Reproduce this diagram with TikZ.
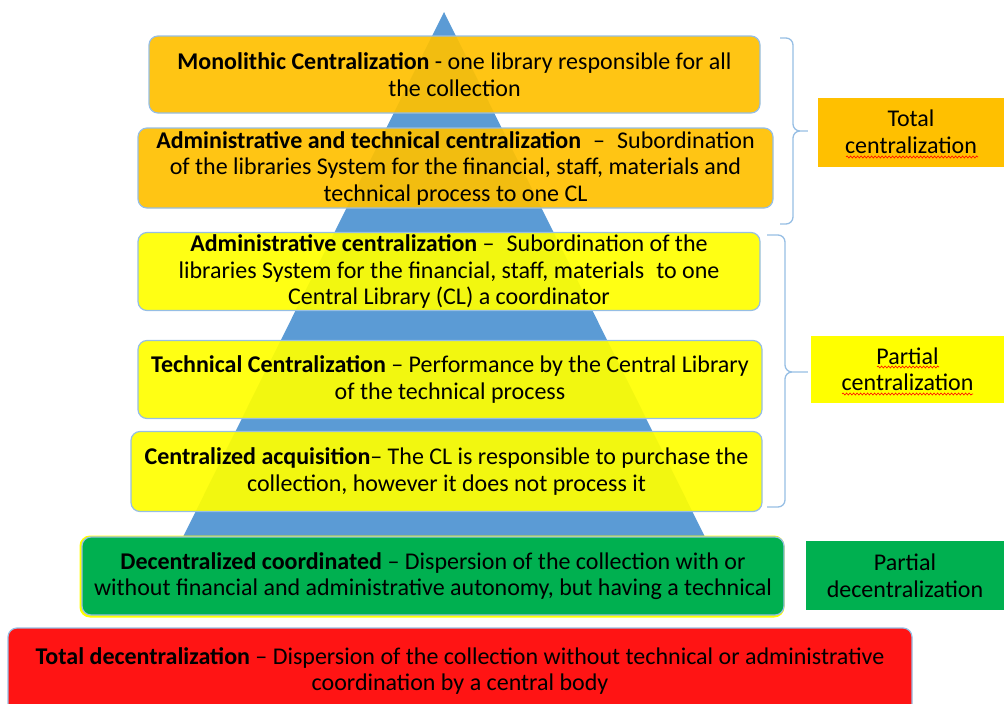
\documentclass[tikz,border=0pt]{standalone}
\usepackage{fontspec}
\setmainfont{Carlito}
\usetikzlibrary{decorations.pathmorphing}
\definecolor{pyrblue}{RGB}{91,155,213}
\definecolor{edgeblue}{RGB}{150,190,228}
\definecolor{boxorange}{RGB}{255,192,0}
\definecolor{boxyellow}{RGB}{255,255,0}
\definecolor{boxgreen}{RGB}{0,176,80}
\definecolor{boxred}{RGB}{255,20,20}
\tikzset{
lvlbox/.style={draw=edgeblue, line width=1.2pt, rounded corners=9pt,
  fill opacity=0.92, text opacity=1, align=center, inner sep=0pt},
catbox/.style={align=center, inner sep=0pt},
bracket/.style={draw=edgeblue, line width=1.3pt, rounded corners=7pt},
squiggle/.style={draw=red, line width=0.6pt, decorate,
  decoration={snake, amplitude=1pt, segment length=3.5pt}}
}

\begin{document}
\begin{tikzpicture}[x=1pt, y=-1pt, font=\fontsize{24}{26.5}\selectfont]
\useasboundingbox (0,0) rectangle (1004,704);
\fill[pyrblue] (444,12) -- (707,541) -- (181,541) -- cycle;
\draw[boxyellow, line width=3pt, rounded corners=9pt] (81,537) rectangle (783,616);

\node[lvlbox, fill=boxorange, minimum width=611pt, minimum height=77pt] (mono) at (454.5,74.5)
  {\textbf{Monolithic Centralization} - one library responsible for all\\the collection};
\node[lvlbox, fill=boxorange, minimum width=635pt, minimum height=80pt] (admtech) at (455.5,168)
  {\textbf{Administrative and technical centralization}\enspace–\enspace Subordination\\of the libraries System for the financial, staff, materials and\\technical process to one CL};
\node[lvlbox, fill=boxyellow, minimum width=622pt, minimum height=78pt] (adm) at (449,271.5)
  {\textbf{Administrative centralization} –\enspace Subordination of the\\libraries System for the financial, staff, materials\enspace to one\\Central Library (CL) a coordinator};
\node[lvlbox, fill=boxyellow, minimum width=624pt, minimum height=78pt] (tech) at (450,379.5)
  {\textbf{Technical Centralization} – Performance by the Central Library\\of the technical process};
\node[lvlbox, fill=boxyellow, minimum width=631pt, minimum height=80pt] (acq) at (446.5,471.5)
  {\textbf{Centralized acquisition}– The CL is responsible to purchase the\\collection, however it does not process it};
\node[lvlbox, fill=boxgreen, fill opacity=1, minimum width=702pt, minimum height=78pt] (dcoord) at (433,576)
  {\textbf{Decentralized coordinated} – Dispersion of the collection with or\\without financial and administrative autonomy, but having a technical};
\node[lvlbox, fill=boxred, fill opacity=1, minimum width=904pt, minimum height=86pt] (totdec) at (460,671)
  {\textbf{Total decentralization} – Dispersion of the collection without technical or administrative\\coordination by a central body};

\node[catbox, fill=boxorange, minimum width=186pt, minimum height=69pt] (totc) at (911,132)
  {Total\\centralization};
\node[catbox, fill=boxyellow, minimum width=193pt, minimum height=67pt] (partc) at (907.5,369.5)
  {Partial\\centralization};
\node[catbox, fill=boxgreen, minimum width=198pt, minimum height=69pt] (partd) at (905,575.5)
  {Partial\\decentralization};

\coordinate (totTop) at (780,38);
\coordinate (totTip) at (812,131);
\coordinate (totBot) at (780,224);
\coordinate (partTop) at (767,235);
\coordinate (partTip) at (812,372);
\coordinate (partBot) at (767,507);
\draw[bracket] (totTop) -- (793,38) -- (793,131) -- (totTip) -- (793,131) -- (793,224) -- (totBot);
\draw[bracket] (partTop) -- (785,235) -- (785,372) -- (partTip) -- (785,372) -- (785,507) -- (partBot);

\draw[squiggle] (846,157) -- (978,157);
\draw[squiggle] (877,367) -- (939,367);
\draw[squiggle] (842,394) -- (973,394);
\end{tikzpicture}
\end{document}
